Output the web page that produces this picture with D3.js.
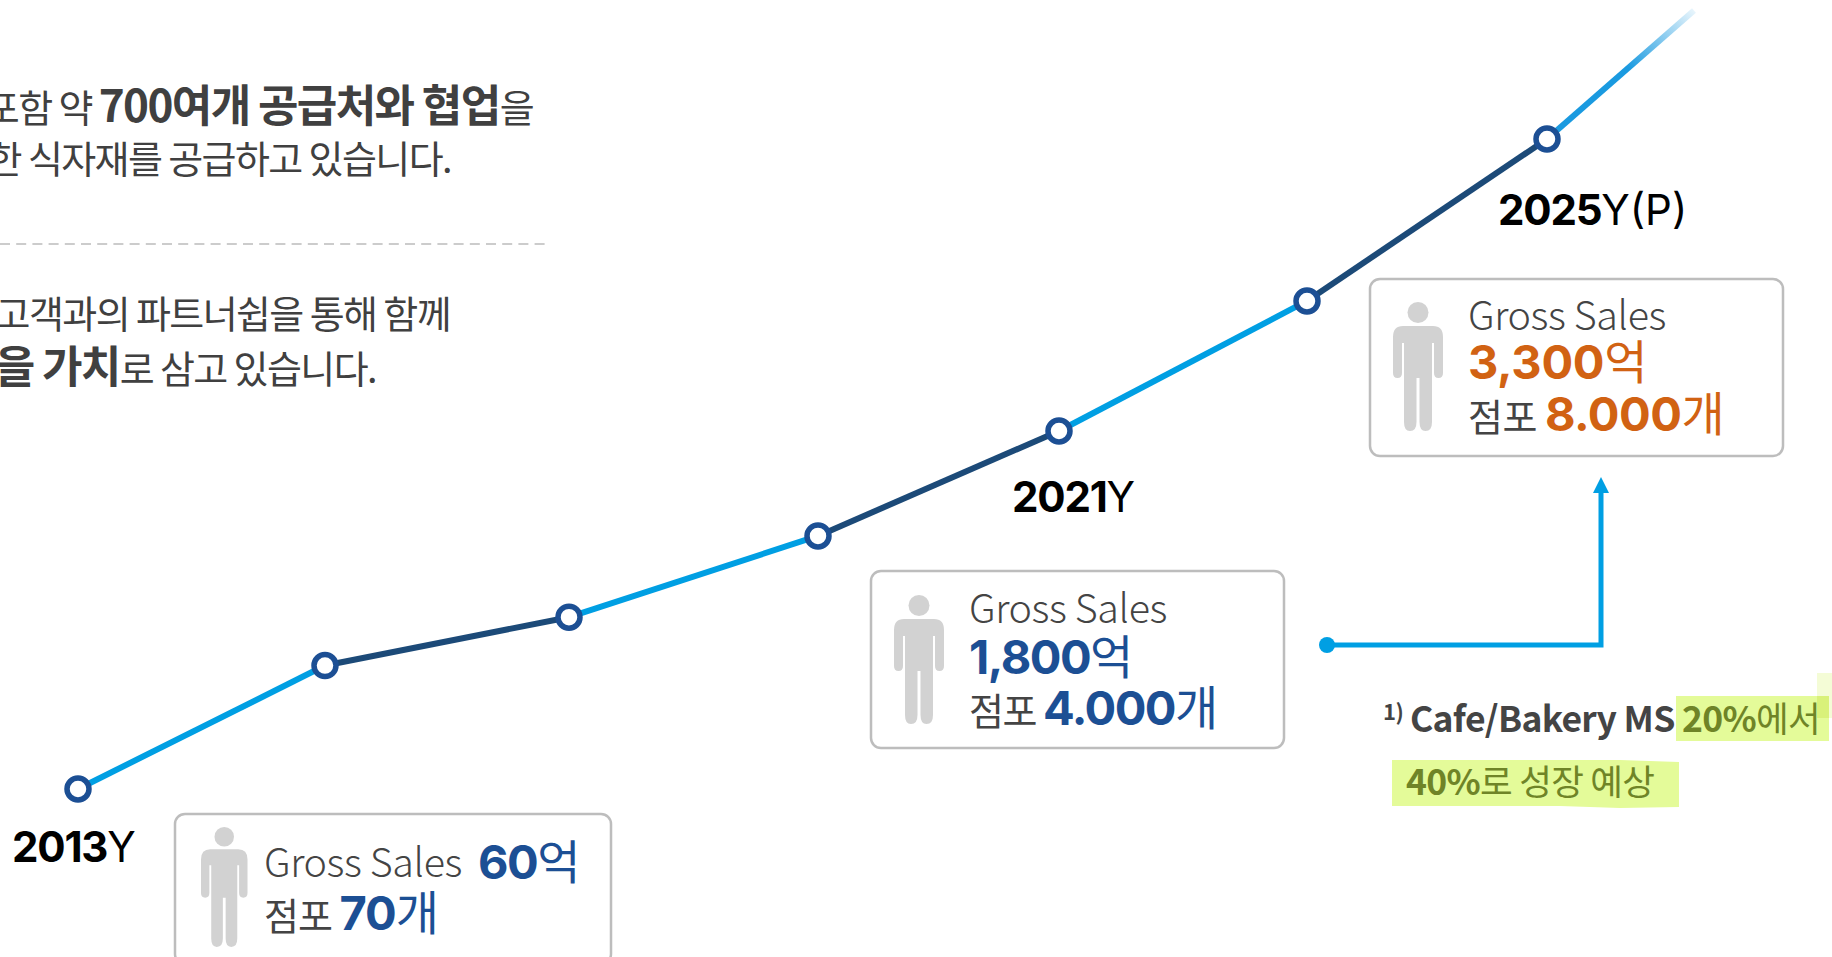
<!DOCTYPE html>
<html>
<head>
<meta charset="utf-8">
<script src="https://cdn.jsdelivr.net/npm/d3@7"></script>
<style>
  html, body { margin: 0; padding: 0; background: #fff; overflow: hidden; }
  svg { display: block; }
</style>
</head>
<body>
<div id="chart"></div>
<script>
// values; only 2013, 2021, 2025 are labelled
var years = [2013, 2015, 2017, 2019, 2021, 2023, 2025, 2026.2];
var sales = [60, 660, 895, 1290, 1800, 2468, 3300, 3960];
var segmentColors = ["#009fe3", "#1c4a78", "#009fe3", "#1c4a78", "#009fe3", "#1c4a78", "#1a9ae0"];

var boxYears = [2013, 2021, 2025];
var yearLabels = ["2013", "2021", "2025"];
var yearSuffix = ["Y", "Y", "Y(P)"];
var salesLabels = ["60", "1,800", "3,300"];
var storeLabels = ["70", "4.000", "8.000"];

var blue = "#1c4f94", orange = "#d16213", grey = "#444", dark = "#404040", olive = "#6f8427";
var krFont = "'Noto Sans CJK KR', sans-serif";
var numFont = "Inter, 'Noto Sans CJK KR', sans-serif";

var svg = d3.select("#chart").append("svg").attr("width", 1832).attr("height", 957);

// the source spacing is hand drawn, so both scales have knees
var x = d3.scaleLinear()
  .domain([2013, 2015, 2017, 2019, 2021, 2023, 2025, 2026.2])
  .range([78, 325, 569, 818, 1059, 1307, 1547, 1694]);
var y = d3.scaleLinear().domain([60, 1800, 3300]).range([789, 431, 139]);

// text made of runs with different weight, size and colour
function runs(xPos, yPos, parts, anchor, family, size, spacing) {
  var t = svg.append("text")
    .attr("x", xPos).attr("y", yPos)
    .attr("text-anchor", anchor || "start")
    .attr("font-family", family || krFont)
    .attr("font-size", size)
    .attr("letter-spacing", spacing);
  parts.forEach(function(p) {
    t.append("tspan")
      .attr("font-weight", p.w || 400)
      .attr("font-family", p.f || null)
      .attr("font-size", p.s || null)
      .attr("letter-spacing", p.ls === undefined ? null : p.ls)
      .attr("fill", p.c || grey)
      .text(p.t);
  });
  return t;
}

// paragraph text at the left, cut by the page edge
runs(533, 122, [{t: "포함 약 ", c: dark}, {t: "700여개 공급처와 협업", w: 700, s: 44, c: dark}, {t: "을", c: dark}], "end", krFont, 38, -1.6);
runs(451, 173, [{t: "한 식자재를 공급하고 있습니다.", c: dark}], "end", krFont, 38, -1.6);
runs(450, 328, [{t: "고객과의 파트너쉽을 통해 함께", c: dark}], "end", krFont, 38, -1.6);
runs(376, 383, [{t: "을 가치", w: 700, s: 44, c: dark}, {t: "로 삼고 있습니다.", c: dark}], "end", krFont, 38, -1.6);

svg.append("line")
  .attr("x1", 0).attr("x2", 545).attr("y1", 244).attr("y2", 244)
  .attr("stroke", "#cccccc").attr("stroke-width", 2).attr("stroke-dasharray", "10 6.2");

// fade on the last piece of the line
var last = years.length - 1;
var grad = svg.append("defs").append("linearGradient")
  .attr("id", "fade").attr("gradientUnits", "userSpaceOnUse")
  .attr("x1", x(years[last - 1])).attr("y1", y(sales[last - 1]))
  .attr("x2", x(years[last])).attr("y2", y(sales[last]));
grad.append("stop").attr("offset", 0).attr("stop-color", "#1a9ae0");
grad.append("stop").attr("offset", 0.55).attr("stop-color", "#1a9ae0");
grad.append("stop").attr("offset", 1).attr("stop-color", "#1a9ae0").attr("stop-opacity", 0.1);

var pts = years.map(function(d, i) { return [x(d), y(sales[i])]; });

svg.append("g").selectAll("line").data(d3.pairs(pts)).join("line")
  .attr("x1", function(d) { return d[0][0]; })
  .attr("y1", function(d) { return d[0][1]; })
  .attr("x2", function(d) { return d[1][0]; })
  .attr("y2", function(d) { return d[1][1]; })
  .attr("stroke", function(d, i) { return i == last - 1 ? "url(#fade)" : segmentColors[i]; })
  .attr("stroke-width", 6);

svg.append("g").selectAll("circle").data(pts.slice(0, last)).join("circle")
  .attr("cx", function(d) { return d[0]; })
  .attr("cy", function(d) { return d[1]; })
  .attr("r", 11)
  .attr("fill", "#fff")
  .attr("stroke", blue)
  .attr("stroke-width", 5.5);

// year labels
var labelPos = [[12, 862], [1012, 512], [1498, 225]];
yearLabels.forEach(function(d, i) {
  runs(labelPos[i][0], labelPos[i][1], [
    {t: d, w: 700, c: "#000"},
    {t: yearSuffix[i], w: 400, c: "#000", ls: i == 2 ? 0 : 0.8}
  ], "start", "Inter, sans-serif", 42, -1.2);
});

function person(px, py, k) {
  var g = svg.append("g")
    .attr("transform", "translate(" + px + "," + py + ") scale(" + k + ")")
    .attr("fill", "#d2d2d2");
  g.append("circle").attr("cx", 25).attr("cy", 10.5).attr("r", 10.5);
  g.append("path").attr("d",
    "M10 24 H40 Q50 24 50 35 V71 Q50 76 45.5 76 Q41 76 41 71 V41 H39 V120 Q39 129 32.5 129 Q26.5 129 26.5 120 V76 H23.5 V120 Q23.5 129 17 129 Q11 129 11 120 V41 H9 V71 Q9 76 4.5 76 Q0 76 0 71 V35 Q0 24 10 24 Z");
}

function box(bx, by, w, h) {
  svg.append("rect").attr("x", bx).attr("y", by).attr("width", w).attr("height", h)
    .attr("rx", 10).attr("fill", "#fff").attr("stroke", "#bdbdbd").attr("stroke-width", 2.5);
}

// 2013 box, runs off the bottom of the page
box(x(boxYears[0]) + 97, 814, 436, 150);
person(201, 827, 0.93);
runs(264, 877, [{t: "Gross Sales", w: 300}], "start", krFont, 39.5, -0.4);
runs(478, 879, [{t: salesLabels[0], w: 700, c: blue, f: numFont}, {t: "억", c: blue}], "start", krFont, 47, -1.5);
runs(264, 930, [{t: "점포 "}, {t: storeLabels[0], w: 700, c: blue, f: numFont, s: 47}, {t: "개", c: blue, s: 47}], "start", krFont, 38, -1);

// 2021 box
box(x(boxYears[1]) - 188, 571, 413, 177);
person(894, 595, 1);
runs(969, 623, [{t: "Gross Sales", w: 300}], "start", krFont, 39.5, -0.4);
runs(969, 674, [{t: salesLabels[1], w: 700, c: blue, f: numFont}, {t: "억", c: blue}], "start", krFont, 47, -1.5);
runs(969, 725, [{t: "점포 "}, {t: storeLabels[1], w: 700, c: blue, f: numFont, s: 47}, {t: "개", c: blue, s: 47}], "start", krFont, 38, -1.5);

// 2025 box
box(x(boxYears[2]) - 177, 279, 413, 177);
person(1393, 302, 1);
runs(1468, 330, [{t: "Gross Sales", w: 300}], "start", krFont, 39.5, -0.4);
runs(1468, 379, [{t: salesLabels[2], w: 700, c: orange, f: numFont}, {t: "억", c: orange}], "start", krFont, 47, -0.3);
runs(1468, 431, [{t: "점포 "}, {t: storeLabels[2], w: 700, c: orange, f: numFont, s: 47}, {t: "개", c: orange, s: 47}], "start", krFont, 38, -0.5);

// arrow between the boxes
var arrowColor = "#009fe3";
svg.append("circle").attr("cx", 1327).attr("cy", 645).attr("r", 8).attr("fill", arrowColor);
svg.append("path").attr("d", d3.line()([[1327, 645], [1601, 645], [1601, 490]]))
  .attr("fill", "none").attr("stroke", arrowColor).attr("stroke-width", 5);
svg.append("path").attr("d", "M1601 477 L1609 493 L1593 493 Z").attr("fill", arrowColor);

// highlighter marks and footnote
svg.append("rect").attr("x", 1817).attr("y", 673).attr("width", 15).attr("height", 45).attr("fill", "#f4fcd6");
svg.append("rect").attr("x", 1676).attr("y", 696).attr("width", 153).attr("height", 45).attr("fill", "#e4fb99");
svg.append("rect").attr("x", 1817).attr("y", 696).attr("width", 12).attr("height", 22).attr("fill", "#d9f17a");
svg.append("path").attr("d", "M1392 760 L1620 760 L1679 762 L1679 807 L1620 808 L1560 806 L1392 806 Z").attr("fill", "#e4fb99");

runs(1383, 720, [{t: "1)", w: 700}], "start", krFont, 22, -0.5);
runs(1410, 732, [{t: "Cafe/Bakery MS ", w: 700}, {t: "20%", w: 700, c: olive}, {t: "에서", c: olive}], "start", krFont, 35.5, -0.7);
runs(1406, 795, [{t: "40%", w: 700, c: olive}, {t: "로 성장 예상", c: olive}], "start", krFont, 35.5, -0.7);
</script>
</body>
</html>
